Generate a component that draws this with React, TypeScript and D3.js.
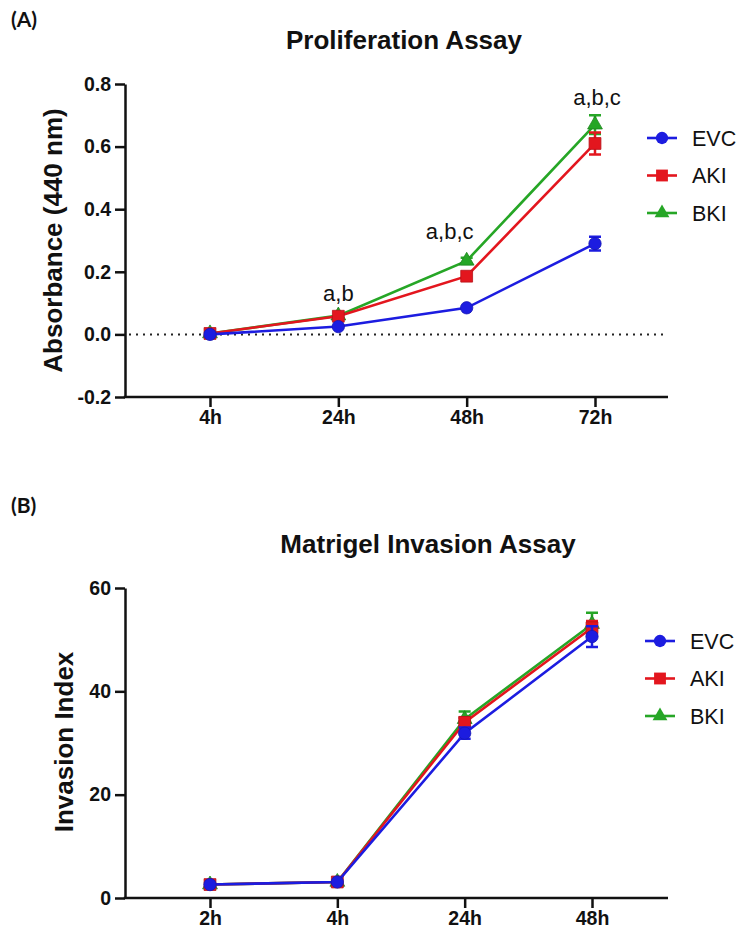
import React, { useRef, useEffect } from "react";
import * as d3 from "d3";

// series names + look
const SERIES = ["EVC", "AKI", "BKI"];
const COLORS = ["#1c1ce0", "#e3161e", "#26a626"];
const SYMBOLS = [d3.symbolCircle, d3.symbolSquare, d3.symbolTriangle];

// (A) proliferation assay, absorbance at 440 nm
const prolifTimes = ["4h", "24h", "48h", "72h"];
const prolifEVC = [0.0, 0.025, 0.085, 0.29];
const prolifAKI = [0.003, 0.058, 0.186, 0.61];
const prolifBKI = [0.003, 0.06, 0.235, 0.67];
const prolifEVCerr = [0.004, 0.005, 0.007, 0.022];
const prolifAKIerr = [0.004, 0.006, 0.009, 0.035];
const prolifBKIerr = [0.004, 0.006, 0.01, 0.03];
const prolifTicks = [-0.2, 0.0, 0.2, 0.4, 0.6, 0.8];
// significance letters: time point, label, value of the text baseline
const prolifNotes = [
  { t: "24h", label: "a,b", y: 0.108, dx: 0 },
  { t: "48h", label: "a,b,c", y: 0.306, dx: -17 },
  { t: "72h", label: "a,b,c", y: 0.732, dx: 2 },
];

// (B) matrigel invasion assay
const invTimes = ["2h", "4h", "24h", "48h"];
const invEVC = [2.6, 3.1, 31.9, 50.6];
const invAKI = [2.6, 3.1, 34.0, 52.3];
const invBKI = [2.6, 3.1, 34.6, 53.0];
const invEVCerr = [0.3, 0.3, 1.1, 2.0];
const invAKIerr = [0.3, 0.3, 0.9, 1.3];
const invBKIerr = [0.3, 0.3, 1.5, 2.2];
const invTicks = [0, 20, 40, 60];

const FONT = "'Liberation Sans', Arial, sans-serif";

function Panel({ cats, values, errors, domain, ticks, fmt, yLabel, title, tag, notes, lay }) {
  const gRef = useRef(null);

  useEffect(() => {
    const g = d3.select(gRef.current);
    g.selectAll("*").remove();

    const x = d3.scalePoint().domain(cats).range([lay.xFirst, lay.xLast]);
    const y = d3.scaleLinear().domain(domain).range([lay.yBottom, lay.yTop]);

    // y axis
    const ya = g.append("g")
      .attr("transform", `translate(${lay.axisX},0)`)
      .call(d3.axisLeft(y).tickValues(ticks).tickFormat(fmt).tickSize(10).tickSizeOuter(0).tickPadding(4));
    ya.select(".domain").attr("stroke", "#111").attr("stroke-width", 2.5);
    ya.selectAll(".tick line").attr("stroke", "#111").attr("stroke-width", 2.5);
    ya.selectAll(".tick text")
      .attr("font-family", FONT).attr("font-size", 19.5).attr("font-weight", "bold").attr("fill", "#111");

    // x axis
    const xa = g.append("g")
      .attr("transform", `translate(0,${lay.yBottom})`)
      .call(d3.axisBottom(x).tickSize(10).tickSizeOuter(0).tickPadding(3));
    xa.select(".domain").remove();
    xa.selectAll(".tick line").attr("stroke", "#111").attr("stroke-width", 2.5);
    xa.selectAll(".tick text")
      .attr("font-family", FONT).attr("font-size", 19.5).attr("font-weight", "bold").attr("fill", "#111");
    g.append("line")
      .attr("x1", lay.axisX - 1.25).attr("x2", lay.axisEnd)
      .attr("y1", lay.yBottom).attr("y2", lay.yBottom)
      .attr("stroke", "#111").attr("stroke-width", 2.5);

    // dotted zero line when axis goes below zero
    if (domain[0] < 0) {
      g.append("line")
        .attr("x1", lay.axisX + 4).attr("x2", lay.axisEnd)
        .attr("y1", y(0)).attr("y2", y(0))
        .attr("stroke", "#222").attr("stroke-width", 2)
        .attr("stroke-dasharray", "2,5");
    }

    // series, drawn green -> red -> blue so blue ends on top
    const line = d3.line().x((d, i) => x(cats[i])).y((d) => y(d));
    [2, 1, 0].forEach((s) => {
      const col = COLORS[s];
      const sg = g.append("g");
      sg.append("path")
        .attr("d", line(values[s]))
        .attr("fill", "none").attr("stroke", col).attr("stroke-width", 2.6);
      values[s].forEach((v, i) => {
        const cx = x(cats[i]);
        const e = errors[s][i];
        const ePx = Math.abs(y(v + e) - y(v));
        if (ePx > 3) {
          sg.append("path")
            .attr("d", `M${cx},${y(v - e)}V${y(v + e)}M${cx - 6},${y(v + e)}H${cx + 6}M${cx - 6},${y(v - e)}H${cx + 6}`)
            .attr("fill", "none").attr("stroke", col).attr("stroke-width", 2.5);
        }
        sg.append("path")
          .attr("transform", `translate(${cx},${y(v)})`)
          .attr("d", d3.symbol().type(SYMBOLS[s]).size(s === 0 ? 120 : s === 1 ? 140 : 95)())
          .attr("fill", col).attr("stroke", d3.color(col).darker(0.6)).attr("stroke-width", 0.8);
      });
    });

    // significance letters
    notes.forEach((n) => {
      g.append("text")
        .attr("x", x(n.t) + n.dx).attr("y", y(n.y))
        .attr("text-anchor", "middle")
        .attr("font-family", FONT).attr("font-size", 22).attr("fill", "#111")
        .text(n.label);
    });

    // legend
    SERIES.forEach((name, s) => {
      const ly = lay.legendY + s * lay.legendGap;
      const lg = g.append("g");
      lg.append("line")
        .attr("x1", lay.legendX).attr("x2", lay.legendX + 30)
        .attr("y1", ly).attr("y2", ly)
        .attr("stroke", COLORS[s]).attr("stroke-width", 2.6);
      lg.append("path")
        .attr("transform", `translate(${lay.legendX + 15},${ly})`)
        .attr("d", d3.symbol().type(SYMBOLS[s]).size(s === 0 ? 120 : s === 1 ? 140 : 95)())
        .attr("fill", COLORS[s]);
      lg.append("text")
        .attr("x", lay.legendX + 45).attr("y", ly)
        .attr("dy", "0.36em")
        .attr("font-family", FONT).attr("font-size", 21.5).attr("fill", "#111")
        .text(name);
    });

    // y label
    g.append("text")
      .attr("transform", `translate(${lay.yLabelX},${(lay.yTop + lay.yBottom) / 2 + lay.yLabelDy}) rotate(-90)`)
      .attr("text-anchor", "middle").attr("dy", "0.36em")
      .attr("font-family", FONT).attr("font-size", 26).attr("font-weight", "bold").attr("fill", "#111")
      .text(yLabel);

    // title + panel tag
    g.append("text")
      .attr("x", lay.titleX).attr("y", lay.titleY)
      .attr("text-anchor", "middle")
      .attr("font-family", FONT).attr("font-size", 26).attr("font-weight", "bold").attr("fill", "#111")
      .text(title);
    g.append("text")
      .attr("x", 11).attr("y", lay.tagY)
      .attr("font-family", "Lato, 'Open Sans', sans-serif").attr("font-size", 21).attr("font-weight", "bold").attr("fill", "#111")
      .text(tag);
  }, []);

  return <g ref={gRef} />;
}

const layoutA = {
  axisX: 125, axisEnd: 668, xFirst: 210, xLast: 595,
  yTop: 84, yBottom: 397,
  yLabelX: 53, yLabelDy: 0,
  titleX: 404, titleY: 49, tagY: 27,
  legendX: 647, legendY: 138, legendGap: 37.5,
};

const layoutB = {
  axisX: 125, axisEnd: 668, xFirst: 210, xLast: 592,
  yTop: 588, yBottom: 898,
  yLabelX: 64, yLabelDy: -1,
  titleX: 428, titleY: 553, tagY: 513,
  legendX: 645, legendY: 641, legendGap: 37.5,
};

export default function App() {
  const fmtA = (d) => d3.format(".1f")(d).replace("\u2212", "-");
  const fmtB = (d) => String(d);
  return (
    <div style={{ position: "absolute", left: 0, top: 0, background: "#fff" }}>
      <svg width={742} height={938} style={{ display: "block" }}>
        <rect width={742} height={938} fill="#fff" />
        <Panel
          cats={prolifTimes}
          values={[prolifEVC, prolifAKI, prolifBKI]}
          errors={[prolifEVCerr, prolifAKIerr, prolifBKIerr]}
          domain={[-0.2, 0.8]}
          ticks={prolifTicks}
          fmt={fmtA}
          yLabel="Absorbance (440 nm)"
          title="Proliferation Assay"
          tag="(A)"
          notes={prolifNotes}
          lay={layoutA}
        />
        <Panel
          cats={invTimes}
          values={[invEVC, invAKI, invBKI]}
          errors={[invEVCerr, invAKIerr, invBKIerr]}
          domain={[0, 60]}
          ticks={invTicks}
          fmt={fmtB}
          yLabel="Invasion Index"
          title="Matrigel Invasion Assay"
          tag="(B)"
          notes={[]}
          lay={layoutB}
        />
      </svg>
    </div>
  );
}
